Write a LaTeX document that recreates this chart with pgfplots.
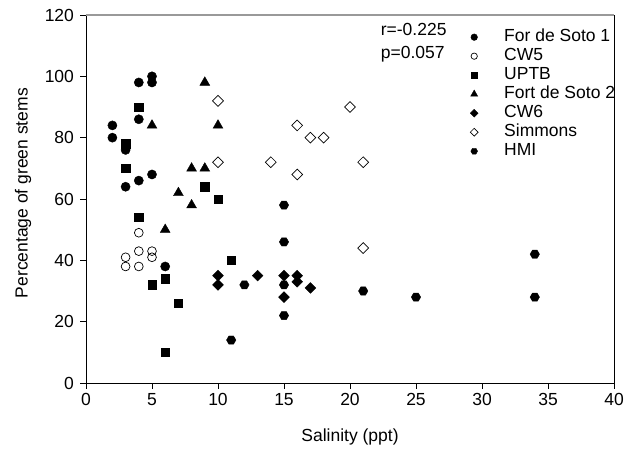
\documentclass[border=0pt]{standalone}
\usepackage{fontspec}
\setmainfont{Liberation Sans}
\usepackage{pgfplots}
\pgfplotsset{compat=1.18}
\pgfdeclareplotmark{hexagon*}{%
  \pgfpathmoveto{\pgfpointpolar{0}{\pgfplotmarksize}}%
  \pgfpathlineto{\pgfpointpolar{60}{\pgfplotmarksize}}%
  \pgfpathlineto{\pgfpointpolar{120}{\pgfplotmarksize}}%
  \pgfpathlineto{\pgfpointpolar{180}{\pgfplotmarksize}}%
  \pgfpathlineto{\pgfpointpolar{240}{\pgfplotmarksize}}%
  \pgfpathlineto{\pgfpointpolar{300}{\pgfplotmarksize}}%
  \pgfpathclose
  \pgfusepathqfillstroke}
\pgfdeclareplotmark{sqdiamond*}{%
  \pgfpathmoveto{\pgfqpoint{0pt}{\pgfplotmarksize}}%
  \pgfpathlineto{\pgfqpoint{\pgfplotmarksize}{0pt}}%
  \pgfpathlineto{\pgfqpoint{0pt}{-\pgfplotmarksize}}%
  \pgfpathlineto{\pgfqpoint{-\pgfplotmarksize}{0pt}}%
  \pgfpathclose
  \pgfusepathqfillstroke}
\pgfdeclareplotmark{sqdiamond}{%
  \pgfpathmoveto{\pgfqpoint{0pt}{\pgfplotmarksize}}%
  \pgfpathlineto{\pgfqpoint{\pgfplotmarksize}{0pt}}%
  \pgfpathlineto{\pgfqpoint{0pt}{-\pgfplotmarksize}}%
  \pgfpathlineto{\pgfqpoint{-\pgfplotmarksize}{0pt}}%
  \pgfpathclose
  \pgfusepathqstroke}
\begin{document}
\begin{tikzpicture}[x=1pt,y=1pt]
\begin{axis}[
  scale only axis,
  width=528pt, height=368pt,
  xmin=0, xmax=40, ymin=0, ymax=120,
  xtick={0,5,...,40}, ytick={0,20,...,120},
  tick pos=left, tick align=outside,
  major tick length=5.5pt,
  tick style={black, line width=0.8pt},
  axis line style={black, line width=0.8pt},
  /pgf/number format/assume math mode=true,
  tick label style={font=\fontsize{17.5}{20}\selectfont},
  xticklabel style={yshift=-1pt},
  yticklabel style={xshift=-3pt},
  label style={font=\fontsize{17.5}{20}\selectfont},
  xlabel={Salinity (ppt)},
  ylabel={Percentage of green stems},
  xlabel style={at={(rel axis cs:0.5,-0.147)}, anchor=center},
  ylabel style={at={(rel axis cs:-0.119,0.516)}, anchor=center},
  clip=false,
  legend style={draw=none, fill=none, at={(rel axis cs:0.7235,0.962)}, anchor=north west,
    font=\fontsize{17.5}{20}\selectfont, row sep=3pt, inner sep=0pt,
    nodes={inner sep=0pt, text height=12pt, text depth=4pt}},
  legend cell align=left,
  legend image code/.code={\path[draw=none, fill=none] (0pt,0pt) -- (36pt,0pt);
    \draw[#1, every mark/.append style={scale=0.72}] plot coordinates {(6pt,0pt)};},
]
\addplot[only marks, mark=*, mark size=4.6pt, black] coordinates {
 (2,84) (2,80) (4,98) (4,86) (5,100) (5,98) (3,76) (3,64) (4,66) (5,68) (6,38)};
\addlegendentry{For de Soto 1}
\addplot[only marks, mark=o, mark size=4.4pt, black, mark options={fill=white, line width=0.7pt}] coordinates {
 (4,49) (4,43) (5,43) (5,41) (3,41) (3,38) (4,38)};
\addlegendentry{CW5}
\addplot[only marks, mark=square*, mark size=4.2pt, black] coordinates {
 (4,90) (3,78) (3,70) (9,64) (10,60) (4,54) (11,40) (6,34) (5,32) (7,26) (6,10)};
\addlegendentry{UPTB}
\addplot[only marks, mark=triangle*, mark size=5.7pt, black] coordinates {
 (9,98) (5,84) (10,84) (8,70) (9,70) (7,62) (8,58) (6,50)};
\addlegendentry{Fort de Soto 2}
\addplot[only marks, mark=sqdiamond*, mark size=5.4pt, black] coordinates {
 (10,35) (10,32) (13,35) (15,35) (15,28) (16,35) (16,33) (17,31)};
\addlegendentry{CW6}
\addplot[only marks, mark=sqdiamond, mark size=5.4pt, black, mark options={fill=white, line width=0.7pt}] coordinates {
 (10,92) (10,72) (14,72) (16,84) (16,68) (17,80) (18,80) (20,90) (21,72) (21,44)};
\addlegendentry{Simmons}
\addplot[only marks, mark=hexagon*, mark size=4.7pt, black] coordinates {
 (15,58) (15,46) (15,32) (15,22) (12,32) (11,14) (21,30) (25,28) (34,42) (34,28)};
\addlegendentry{HMI}
\node[anchor=west, align=left, inner sep=0pt, font=\fontsize{17.5}{20}\selectfont] at (rel axis cs:0.558,0.924) {r=-0.225\\[3pt]p=0.057};
\draw[gray!80, line width=1.2pt] (rel axis cs:0,1) -- (rel axis cs:1,1);
\draw[black, line width=0.8pt] (rel axis cs:1,0) -- (rel axis cs:1,1);
\end{axis}
\path (current axis.south west) ++(-86pt,-67pt) rectangle ([shift={(20pt,15pt)}]current axis.north east);
\end{tikzpicture}
\end{document}
